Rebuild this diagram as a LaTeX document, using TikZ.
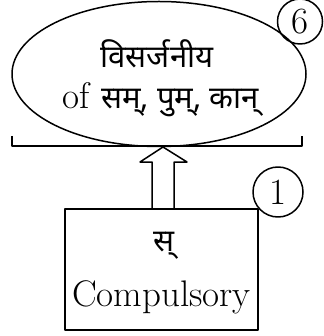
\documentclass[tikz,border=0pt]{standalone}
\usepackage{fontspec}
\newfontfamily\devfont[Script=Devanagari, Scale=0.84]{Noto Sans}
\usetikzlibrary{shapes.geometric}
\tikzset{
  numcircle/.style={draw, circle, inner sep=0pt, minimum size=#1},
  txt/.style={font=\fontsize{18.5}{25}\selectfont, align=center},
}
\begin{document}
\begin{tikzpicture}[x=0.5pt, y=-0.5pt, line width=0.75pt, line join=round]
	\useasboundingbox (0,0) rectangle (323,336);
	% Ellipse and bracket
	\node[draw, ellipse, minimum width=147pt, minimum height=72.5pt, inner sep=0pt] (visarga) at (159,74) {};
	\node[txt] (vtop) at (157,54) {\devfont विसर्जनीय};
	\node[txt] (vbot) at (161,100) {of \devfont सम्, पुम्, कान्};
	\node[numcircle=22.5pt, font=\fontsize{18.5}{20}\selectfont] (six) at (300,21.5) {6};
	\coordinate (bl) at (12,146);
	\coordinate (br) at (302,146);
	\draw (bl) ++(0,-10) -- (bl) -- (br) -- ++(0,-10);
	% Box
	\node[draw, rectangle, minimum width=96.5pt, minimum height=60.5pt, inner sep=0pt] (box) at (161.5,269.5) {};
	\node[txt] (sa) at (164,246) {\devfont स्};
	\node[txt] (comp) at (161.5,297) {Compulsory};
	\node[numcircle=25pt, font=\fontsize{18.5}{20}\selectfont] (one) at (278,192) {1};
	% Hollow arrow
	\coordinate (tip) at (163,147);
	\draw (box.north -| 152,0) -- (152,162) -- (140,162) -- (tip) -- (187,162) -- (174,162) -- (box.north -| 174,0);
\end{tikzpicture}
\end{document}
